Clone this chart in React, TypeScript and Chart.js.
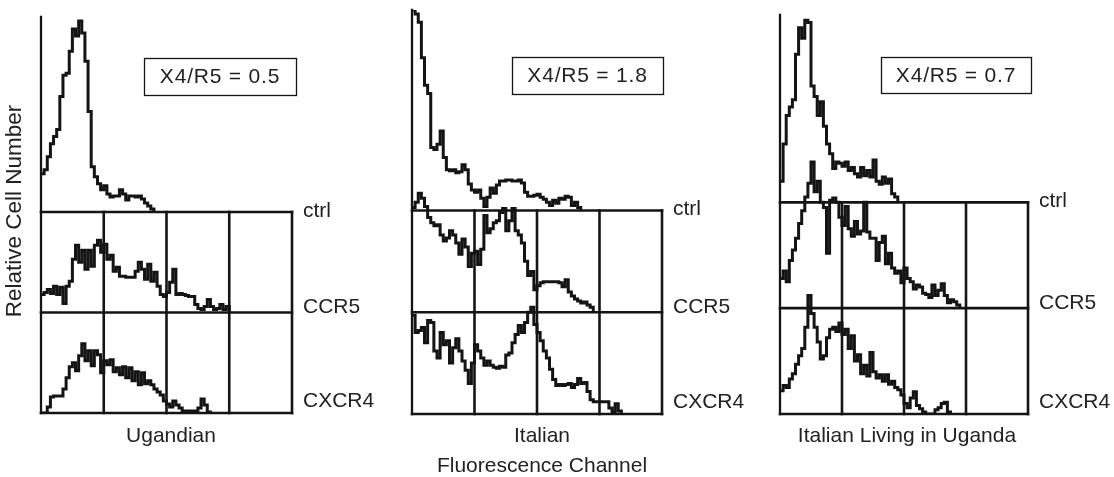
import { useEffect, useRef } from "react";
import { Chart, registerables } from "chart.js";

Chart.register(...registerables);

// ---------- data (histogram heights, one value every STEP of a decade, in row units above each baseline)
const STEP = 0.05;
const X_MAX = 4;
const GRID_X = [1, 2, 3, 4];
const ROW_LABELS = ["CXCR4", "CCR5", "ctrl"]; // baseline value = index
const PANEL_TITLES = ["Ugandian", "Italian", "Italian Living in Uganda"];
const RATIO_LABELS = ["X4/R5 = 0.5", "X4/R5 = 1.8", "X4/R5 = 0.7"];
const Y_TITLE = "Relative Cell Number";
const X_TITLE = "Fluorescence Channel";

// Ugandian
const ugCtrl = [0.38, 0.42, 0.55, 0.68, 0.75, 0.82, 1.15, 1.36, 1.38, 1.6, 1.82, 1.75, 1.9, 1.78, 1.5, 1.0, 0.45, 0.35, 0.28, 0.22, 0.26, 0.18, 0.15, 0.16, 0.16, 0.22, 0.18, 0.12, 0.16, 0.16, 0.15, 0.16, 0.13, 0.09, 0.06, 0.03, 0];
const ugCCR5 = [0.18, 0.2, 0.23, 0.19, 0.26, 0.18, 0.25, 0.09, 0.26, 0.31, 0.53, 0.67, 0.5, 0.62, 0.43, 0.62, 0.46, 0.67, 0.72, 0.6, 0.68, 0.53, 0.57, 0.41, 0.45, 0.36, 0.36, 0.35, 0.35, 0.35, 0.41, 0.5, 0.43, 0.33, 0.48, 0.31, 0.4, 0.26, 0.18, 0.16, 0.2, 0.3, 0.43, 0.18, 0.19, 0.18, 0.17, 0.16, 0.16, 0.08, 0.04, 0.03, 0.06, 0.13, 0.06, 0.03, 0.04, 0.08, 0.03, 0.06, 0];
const ugCXCR4 = [0, 0, 0.06, 0.16, 0.17, 0.17, 0.17, 0.24, 0.35, 0.46, 0.5, 0.42, 0.57, 0.69, 0.52, 0.62, 0.47, 0.62, 0.58, 0.4, 0.52, 0.48, 0.53, 0.41, 0.45, 0.38, 0.46, 0.35, 0.45, 0.32, 0.41, 0.28, 0.4, 0.29, 0.32, 0.28, 0.24, 0.21, 0.18, 0.12, 0.09, 0.06, 0.12, 0.08, 0.05, 0.02, 0.02, 0.02, 0.02, 0.02, 0.05, 0.14, 0.08, 0.01, 0];

// Italian
const itCtrl = [1.97, 1.93, 1.85, 1.5, 1.23, 1.15, 0.62, 0.6, 0.65, 0.78, 0.52, 0.4, 0.39, 0.4, 0.37, 0.38, 0.45, 0.4, 0.26, 0.2, 0.18, 0.2, 0.12, 0.04, 0.13, 0.22, 0.17, 0.25, 0.29, 0.29, 0.3, 0.3, 0.29, 0.29, 0.3, 0.27, 0.18, 0.14, 0.14, 0.15, 0.16, 0.13, 0.11, 0.08, 0.05, 0.1, 0.07, 0.12, 0.11, 0.14, 0.13, 0.05, 0.08, 0.03, 0];
const itCCR5 = [1.03, 1.08, 1.17, 1.12, 1.04, 0.93, 0.88, 0.85, 0.86, 0.76, 0.7, 0.73, 0.8, 0.76, 0.68, 0.57, 0.72, 0.64, 0.45, 0.58, 0.6, 0.47, 0.62, 0.95, 0.78, 0.82, 0.88, 0.9, 0.98, 1.02, 0.8, 0.9, 1.02, 0.8, 0.76, 0.68, 0.5, 0.36, 0.4, 0.22, 0.26, 0.29, 0.3, 0.3, 0.3, 0.3, 0.3, 0.29, 0.25, 0.32, 0.2, 0.16, 0.13, 0.11, 0.09, 0.1, 0.07, 0.05, 0.01];
const itCXCR4 = [0.97, 0.8, 0.82, 0.85, 0.7, 0.92, 0.9, 0.62, 0.55, 0.8, 0.68, 0.72, 0.5, 0.65, 0.74, 0.62, 0.52, 0.43, 0.3, 0.5, 0.68, 0.62, 0.55, 0.48, 0.52, 0.48, 0.46, 0.45, 0.47, 0.46, 0.58, 0.6, 0.7, 0.78, 0.87, 0.8, 0.9, 1.0, 1.05, 0.88, 0.8, 0.72, 0.62, 0.55, 0.44, 0.34, 0.28, 0.29, 0.28, 0.29, 0.3, 0.26, 0.29, 0.35, 0.3, 0.31, 0.22, 0.14, 0.12, 0.12, 0.12, 0.12, 0.12, 0.06, 0.02, 0.1, 0.03, 0];

// Italian living in Uganda
const ulCtrl = [0.2, 0.55, 0.82, 0.9, 0.97, 1.4, 1.65, 1.55, 1.72, 1.7, 1.1, 1.0, 0.82, 0.95, 0.72, 0.55, 0.46, 0.32, 0.38, 0.37, 0.34, 0.38, 0.3, 0.33, 0.27, 0.24, 0.33, 0.25, 0.3, 0.24, 0.4, 0.2, 0.17, 0.24, 0.18, 0.22, 0.08, 0.05, 0];
const ulCCR5 = [0.28, 0.35, 0.25, 0.45, 0.55, 0.66, 0.8, 0.92, 1.05, 1.18, 1.38, 1.1, 1.2, 1.0, 0.95, 0.52, 1.02, 1.04, 1.0, 0.86, 0.78, 0.96, 0.75, 0.68, 0.82, 0.7, 0.73, 1.0, 0.72, 0.66, 0.66, 0.45, 0.62, 0.68, 0.42, 0.52, 0.38, 0.33, 0.35, 0.24, 0.38, 0.28, 0.25, 0.18, 0.22, 0.2, 0.14, 0.13, 0.1, 0.22, 0.12, 0.17, 0.23, 0.12, 0.05, 0.08, 0.06, 0.03, 0];
const ulCXCR4 = [0.22, 0.27, 0.25, 0.33, 0.38, 0.47, 0.55, 0.62, 0.82, 1.12, 0.95, 0.82, 0.68, 0.52, 0.55, 0.72, 0.8, 0.82, 0.78, 0.86, 0.75, 0.8, 0.62, 0.74, 0.5, 0.56, 0.38, 0.46, 0.36, 0.58, 0.4, 0.34, 0.37, 0.31, 0.37, 0.28, 0.31, 0.25, 0.23, 0.18, 0.1, 0.06, 0.15, 0.21, 0.08, 0.05, 0.02, 0, 0, 0, 0.04, 0.06, 0.1, 0.11, 0.02, 0];

const PANEL_SERIES = [
  [ugCXCR4, ugCCR5, ugCtrl],
  [itCXCR4, itCCR5, itCtrl],
  [ulCXCR4, ulCCR5, ulCtrl],
];

// ---------- layout (pixels on the page)
const W = 1114;
const H = 477;
const INK = "#141414";
const TEXT = "#222222";
const FAMILY = '"Liberation Sans", Arial, Helvetica, sans-serif';
const FONT = "21px " + FAMILY;
const Y_FONT = "22.5px " + FAMILY;

const GEO = [
  { cl: 0, cr: 400, left: 41, right: 292, top: 17, bottom: 413, ymax: 3.94, box: [144, 58, 152, 37], titleX: 171 },
  { cl: 360, cr: 770, left: 412, right: 662, top: 10, bottom: 414, ymax: 3.97, box: [512, 57, 151, 37], titleX: 542 },
  { cl: 730, cr: W, left: 780, right: 1028, top: 15, bottom: 414, ymax: 3.77, box: [881, 57, 150, 36], titleX: 907 },
];
const LABEL_OFFSETS = [-12, -5, -1]; // px nudges of row labels relative to baseline
const TITLE_Y = 436;

function makePlugin(p: number) {
  const g = GEO[p];
  return {
    id: "frame" + p,
    beforeDatasetsDraw(chart: any) {
      const { ctx, scales } = chart;
      const x = scales.x;
      const y = scales.y;
      const seg = (x1: number, y1: number, x2: number, y2: number) => {
        ctx.beginPath();
        ctx.moveTo(x1, y1);
        ctx.lineTo(x2, y2);
        ctx.stroke();
      };
      ctx.save();
      ctx.strokeStyle = INK;
      ctx.lineWidth = 2.6;
      ctx.lineCap = "square";
      ROW_LABELS.forEach((_, r) => {
        seg(x.getPixelForValue(0), y.getPixelForValue(r), x.getPixelForValue(X_MAX), y.getPixelForValue(r));
      });
      GRID_X.forEach((v) => {
        seg(x.getPixelForValue(v), y.getPixelForValue(0), x.getPixelForValue(v), y.getPixelForValue(2));
      });
      ctx.lineWidth = 2.3;
      seg(x.getPixelForValue(0), y.getPixelForValue(0), x.getPixelForValue(0), y.getPixelForValue(g.ymax));
      ctx.restore();
    },
    afterDraw(chart: any) {
      const { ctx, scales } = chart;
      const x = scales.x;
      const y = scales.y;
      ctx.save();
      ctx.font = FONT;
      ctx.fillStyle = TEXT;
      ctx.textBaseline = "middle";
      ctx.textAlign = "left";
      ROW_LABELS.forEach((lab, r) => {
        ctx.fillText(lab, x.getPixelForValue(X_MAX) + 11, y.getPixelForValue(r) + LABEL_OFFSETS[r]);
      });
      ctx.textAlign = "center";
      ctx.fillText(PANEL_TITLES[p], g.titleX - g.cl, TITLE_Y);
      // ratio box
      const [bx, by, bw, bh] = g.box;
      ctx.strokeStyle = INK;
      ctx.lineWidth = 1.3;
      ctx.strokeRect(bx - g.cl + 0.5, by + 0.5, bw, bh);
      (ctx as any).letterSpacing = "0.8px";
      ctx.fillText(RATIO_LABELS[p], bx - g.cl + bw / 2, by + bh / 2 + 1);
      (ctx as any).letterSpacing = "0px";
      if (p === 0) {
        ctx.save();
        ctx.font = Y_FONT;
        ctx.translate(15 - g.cl, 211);
        ctx.rotate(-Math.PI / 2);
        ctx.fillText(Y_TITLE, 0, 0);
        ctx.restore();
      }
      if (p === 1) {
        ctx.fillText(X_TITLE, 542 - g.cl, 466);
      }
      ctx.restore();
    },
  };
}

function Panel({ index }: { index: number }) {
  const ref = useRef<HTMLCanvasElement | null>(null);
  const g = GEO[index];
  useEffect(() => {
    if (!ref.current) return;
    const datasets = PANEL_SERIES[index].map((vals, row) => ({
      label: ROW_LABELS[row],
      data: vals.map((v, i) => ({ x: i * STEP, y: row + v })),
      borderColor: INK,
      borderWidth: 3,
      pointRadius: 0,
      fill: false,
      stepped: true as const,
      tension: 0,
    }));
    const chart = new Chart(ref.current, {
      type: "line",
      data: { datasets },
      options: {
        responsive: false,
        devicePixelRatio: 1,
        animation: false,
        events: [],
        layout: {
          padding: { left: g.left - g.cl, right: g.cr - g.right, top: g.top, bottom: H - g.bottom },
        },
        plugins: { legend: { display: false }, tooltip: { enabled: false } },
        scales: {
          x: { type: "linear", min: 0, max: X_MAX, display: false },
          y: { type: "linear", min: 0, max: g.ymax, display: false },
        },
      },
      plugins: [makePlugin(index)],
    });
    return () => chart.destroy();
  }, [index]);
  return (
    <canvas
      ref={ref}
      width={g.cr - g.cl}
      height={H}
      style={{ position: "absolute", left: g.cl, top: 0, width: g.cr - g.cl, height: H }}
    />
  );
}

export default function App() {
  return (
    <div style={{ position: "absolute", left: 0, top: 0, width: W, height: H, background: "#fff", overflow: "hidden" }}>
      {GEO.map((_, i) => (
        <Panel key={i} index={i} />
      ))}
    </div>
  );
}
